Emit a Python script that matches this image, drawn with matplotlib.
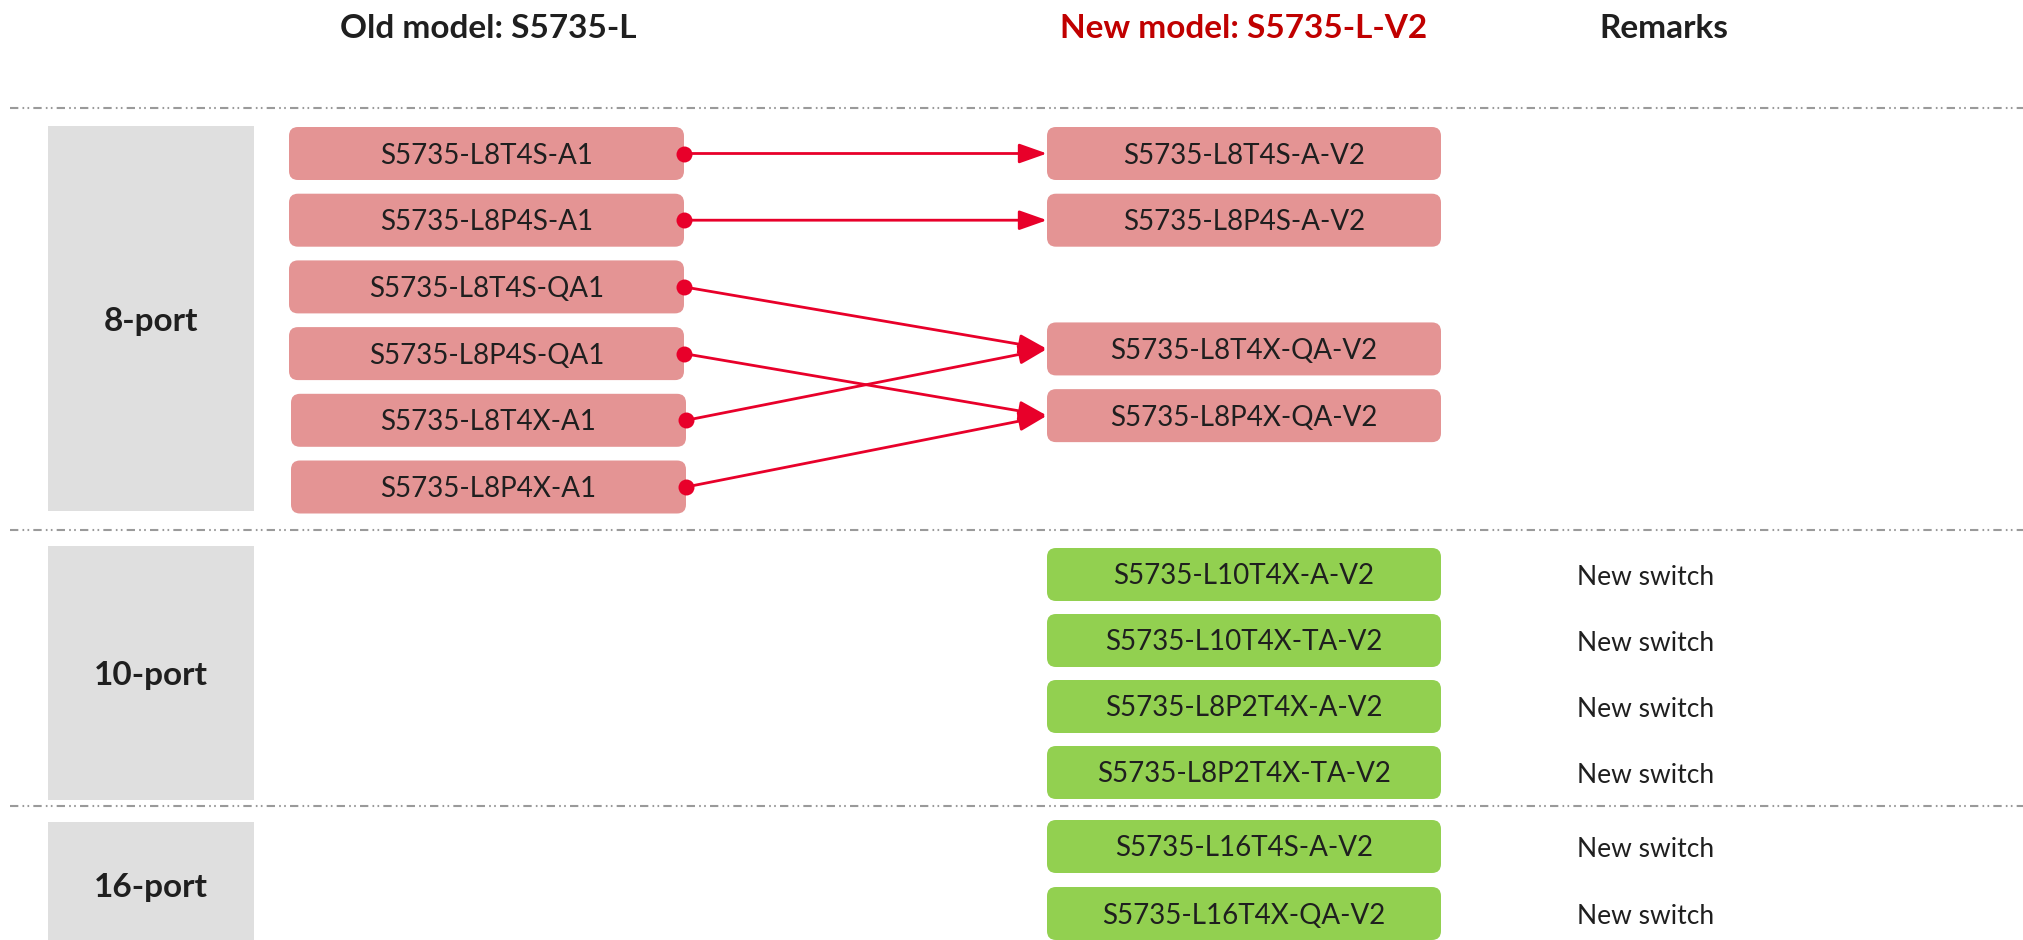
import matplotlib
matplotlib.use("Agg")
import matplotlib.pyplot as plt
from matplotlib.patches import FancyBboxPatch, Rectangle, FancyArrowPatch

plt.rcParams['font.family'] = ['Lato', 'DejaVu Sans']

# ---------------- data ----------------
headers = ["Old model: S5735-L", "New model: S5735-L-V2", "Remarks"]
categories = ["8-port", "10-port", "16-port"]
old_models = ["S5735-L8T4S-A1", "S5735-L8P4S-A1", "S5735-L8T4S-QA1",
              "S5735-L8P4S-QA1", "S5735-L8T4X-A1", "S5735-L8P4X-A1"]
new_8port = ["S5735-L8T4S-A-V2", "S5735-L8P4S-A-V2",
             "S5735-L8T4X-QA-V2", "S5735-L8P4X-QA-V2"]
new_10port = ["S5735-L10T4X-A-V2", "S5735-L10T4X-TA-V2",
              "S5735-L8P2T4X-A-V2", "S5735-L8P2T4X-TA-V2"]
new_16port = ["S5735-L16T4S-A-V2", "S5735-L16T4X-QA-V2"]
# old model index -> new 8-port model index
mapping = [0, 1, 2, 3, 2, 3]
remark_10port = ["New switch"] * 4
remark_16port = ["New switch"] * 2

# ---------------- style / layout ----------------
PINK = "#E49494"
GREEN = "#92D050"
GRAY = "#DFDFDF"
RED = "#E8002A"
HRED = "#C00000"
TXT = "#1F1F1F"

W, H = 2024, 940
fig = plt.figure(figsize=(W / 100, H / 100), dpi=100)
ax = fig.add_axes([0, 0, 1, 1])
ax.set_xlim(0, W)
ax.set_ylim(H, 0)
ax.axis("off")

# headers
header_x = [488, 1244, 1664]
header_c = [TXT, HRED, TXT]
for hx, t, c in zip(header_x, headers, header_c):
    ax.text(hx, 28, t, ha="center", va="center", fontsize=24,
            fontweight="bold", color=c)

# separators
for sy in [108, 530, 806]:
    ax.plot([10, W], [sy, sy], color="#9A9A9A", lw=1.5,
            dashes=(4, 2, 0.8, 1.6, 0.8, 2), solid_capstyle="butt")

# category boxes
cat_spans = [(126, 511), (546, 800), (822, 955)]
cat_label_y = [321, 675, 887]
for (y0, y1), ly, name in zip(cat_spans, cat_label_y, categories):
    ax.add_patch(Rectangle((48, y0), 206, y1 - y0, color=GRAY, lw=0))
    ax.text(151, ly, name, ha="center", va="center", fontsize=24,
            fontweight="bold", color=TXT)

BOX_H = 53


def box(x, y_top, w, label, color):
    ax.add_patch(FancyBboxPatch((x, y_top), w, BOX_H,
                                boxstyle="round,pad=0,rounding_size=9",
                                fc=color, ec="none"))
    ax.text(x + w / 2, y_top + BOX_H / 2 + 2, label, ha="center",
            va="center", fontsize=20, color=TXT)


# old boxes
OLD_X, OLD_W = 289, 395
old_tops = [127 + i * 66.7 for i in range(len(old_models))]
old_dx = [0, 0, 0, 0, 2, 2]
for i, m in enumerate(old_models):
    box(OLD_X + old_dx[i], old_tops[i], OLD_W, m, PINK)

# new boxes
NEW_X, NEW_W = 1047, 394
new8_slots = [0, 1, 2.93, 3.93]
new8_tops = [127 + s * 66.7 for s in new8_slots]
for t, m in zip(new8_tops, new_8port):
    box(NEW_X, t, NEW_W, m, PINK)

new10_tops = [548 + i * 66 for i in range(len(new_10port))]
for t, m, r in zip(new10_tops, new_10port, remark_10port):
    box(NEW_X, t, NEW_W, m, GREEN)
    ax.text(1646, t + BOX_H / 2 + 3, r, ha="center", va="center",
            fontsize=19, color=TXT)

new16_tops = [820 + i * 67 for i in range(len(new_16port))]
for t, m, r in zip(new16_tops, new_16port, remark_16port):
    box(NEW_X, t, NEW_W, m, GREEN)
    ax.text(1646, t + BOX_H / 2 + 3, r, ha="center", va="center",
            fontsize=19, color=TXT)

# arrows
for i, j in enumerate(mapping):
    x0 = OLD_X + old_dx[i] + OLD_W
    y0 = old_tops[i] + BOX_H / 2
    x1 = NEW_X
    y1 = new8_tops[j] + BOX_H / 2
    arr = FancyArrowPatch((x0, y0), (x1, y1),
                          arrowstyle="-|>,head_length=17,head_width=6",
                          mutation_scale=1, color=RED, lw=2,
                          shrinkA=0, shrinkB=0, zorder=3)
    ax.add_patch(arr)
    ax.plot([x0], [y0], "o", ms=11.5, color=RED, mec="none", zorder=4)

fig.savefig("out.png", dpi=100)
